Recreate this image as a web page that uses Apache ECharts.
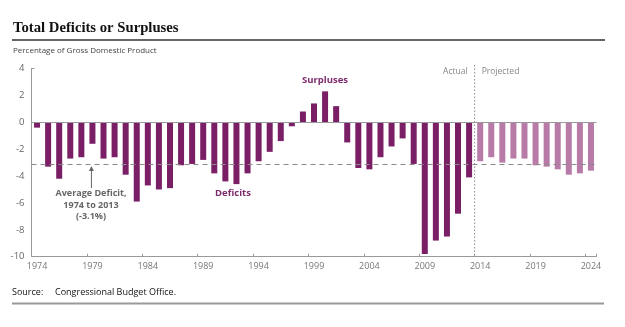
<!DOCTYPE html>
<html>
<head>
<meta charset="utf-8">
<script src="https://cdn.jsdelivr.net/npm/echarts@6/dist/echarts.min.js"></script>
<style>
  html, body { margin: 0; padding: 0; background: #fff; }
  #chart { width: 625px; height: 327px; }
</style>
</head>
<body>
<div id="chart"></div>
<script>
// Fiscal years shown on the axis
const years = [];
for (let y = 1974; y <= 2024; y++) years.push(String(y));

// Actual deficits (-) or surpluses (+), percent of GDP, 1974-2013
const actualValues = [
  -0.4, -3.3, -4.2, -2.7, -2.6, -1.6, -2.7, -2.6, -3.9, -5.9,
  -4.7, -5.0, -4.9, -3.2, -3.1, -2.8, -3.8, -4.4, -4.6, -3.8,
  -2.9, -2.2, -1.4, -0.3, 0.8, 1.4, 2.3, 1.2, -1.5, -3.4,
  -3.5, -2.6, -1.8, -1.2, -3.1, -9.8, -8.8, -8.5, -6.8, -4.1
];
// Projected values, 2014-2024
const projectedValues = [-2.9, -2.6, -3.0, -2.7, -2.7, -3.2, -3.3, -3.5, -3.9, -3.8, -3.6];

const averageDeficit = -3.1;
const yTicks = [4, 2, 0, -2, -4, -6, -8, -10];

const actualColor = '#7a1f66';
const projectedColor = '#b87aa6';
const annoColor = '#7d2a6d';

const barData = actualValues.map(v => ({ value: v, itemStyle: { color: actualColor } }))
  .concat(projectedValues.map(v => ({ value: v, itemStyle: { color: projectedColor } })));

const chart = echarts.init(document.getElementById('chart'), null, { renderer: 'canvas' });

const sans = 'Open Sans, Liberation Sans, sans-serif';

chart.setOption({
  animation: false,
  backgroundColor: '#ffffff',
  grid: { left: 31.5, right: 28.5, top: 68.5, bottom: 70.3, containLabel: false },
  xAxis: {
    type: 'category',
    data: years,
    boundaryGap: true,
    axisLine: { onZero: false, lineStyle: { color: '#999', width: 1 } },
    axisTick: { show: true, inside: true, length: 3, interval: 4, lineStyle: { color: '#999' } },
    axisLabel: { interval: 4, color: '#777', fontSize: 9, fontFamily: sans, margin: 5 }
  },
  yAxis: {
    type: 'value',
    min: Math.min(...yTicks),
    max: Math.max(...yTicks),
    interval: 2,
    splitLine: { show: false },
    axisLine: { show: true, lineStyle: { color: '#999', width: 1 } },
    axisTick: { show: false },
    axisLabel: { color: '#666', fontSize: 9.5, fontFamily: sans, margin: 7 }
  },
  series: [{
    type: 'bar',
    data: barData,
    barWidth: 6,
    markLine: {
      silent: true,
      symbol: 'none',
      label: { show: false },
      data: [
        { yAxis: 0, lineStyle: { color: '#999', type: 'solid', width: 1 } },
        { yAxis: averageDeficit, lineStyle: { color: '#8a8a8a', type: [5, 4], width: 1.2 } }
      ]
    }
  }]
});

// Divider between actual and projected years, and the pointer to the average line
const xLast = chart.convertToPixel({ xAxisIndex: 0 }, '2013');
const xFirst = chart.convertToPixel({ xAxisIndex: 0 }, '2014');
const xDiv = (xLast + xFirst) / 2;
const yTop = chart.convertToPixel({ yAxisIndex: 0 }, 4);
const yBottom = chart.convertToPixel({ yAxisIndex: 0 }, -10);
const yAvg = chart.convertToPixel({ yAxisIndex: 0 }, averageDeficit);
const xAxisLeft = chart.convertToPixel({ xAxisIndex: 0 }, '1974') - 5.5;
const xArrow = chart.convertToPixel({ xAxisIndex: 0 }, '1979') - 1;

chart.setOption({
  graphic: [
    { id: 'title', type: 'text', left: 13, top: 21,
      style: { text: 'Total Deficits or Surpluses', font: 'bold 14.7px "Liberation Serif", serif', fill: '#111' } },
    { id: 'titleRule', type: 'line', shape: { x1: 12, y1: 40, x2: 605, y2: 40 }, style: { stroke: '#333', lineWidth: 1.5 } },
    { id: 'unit', type: 'text', left: 13, top: 47,
      style: { text: 'Percentage of Gross Domestic Product', font: '8px ' + sans, fill: '#444' } },
    { id: 'topTick', type: 'line', shape: { x1: xAxisLeft, y1: yTop, x2: xAxisLeft + 3, y2: yTop },
      style: { stroke: '#999', lineWidth: 1 } },
    { id: 'surp', type: 'text', x: 325, y: 80,
      style: { text: 'Surpluses', font: 'bold 9.5px ' + sans, fill: annoColor, align: 'center', verticalAlign: 'middle' } },
    { id: 'def', type: 'text', x: 233, y: 193,
      style: { text: 'Deficits', font: 'bold 9.5px ' + sans, fill: annoColor, align: 'center', verticalAlign: 'middle' } },
    { id: 'avgText', type: 'text', x: 91, y: 205,
      style: { text: 'Average Deficit,\n1974 to 2013\n(-3.1%)', font: 'bold 9px ' + sans, fill: '#666',
               align: 'center', verticalAlign: 'middle', lineHeight: 11.5 } },
    { id: 'sourceLabel', type: 'text', x: 12, y: 292,
      style: { text: 'Source:', font: '9px ' + sans, fill: '#111', align: 'left', verticalAlign: 'middle' } },
    { id: 'source', type: 'text', x: 55, y: 292,
      style: { text: 'Congressional Budget Office.', font: '9px ' + sans, fill: '#111', align: 'left', verticalAlign: 'middle' } },
    { id: 'footRule', type: 'line', shape: { x1: 12, y1: 303.5, x2: 604, y2: 303.5 }, style: { stroke: '#999', lineWidth: 2 } },
    { id: 'divider', type: 'line', shape: { x1: xDiv, y1: 65, x2: xDiv, y2: yBottom },
      style: { stroke: '#888', lineWidth: 1, lineDash: [1.5, 2] } },
    { id: 'actual', type: 'text', x: xDiv - 7, y: 72,
      style: { text: 'Actual', font: '8.5px ' + sans, fill: '#888', align: 'right', verticalAlign: 'middle' } },
    { id: 'projected', type: 'text', x: xDiv + 7, y: 72,
      style: { text: 'Projected', font: '8.5px ' + sans, fill: '#888', align: 'left', verticalAlign: 'middle' } },
    { id: 'arrowStem', type: 'line', shape: { x1: xArrow, y1: 188, x2: xArrow, y2: yAvg + 4 },
      style: { stroke: '#666', lineWidth: 1 } },
    { id: 'arrowHead', type: 'polygon', shape: { points: [[xArrow, yAvg + 2], [xArrow - 2.5, yAvg + 7], [xArrow + 2.5, yAvg + 7]] },
      style: { fill: '#666' } }
  ]
});
</script>
</body>
</html>
